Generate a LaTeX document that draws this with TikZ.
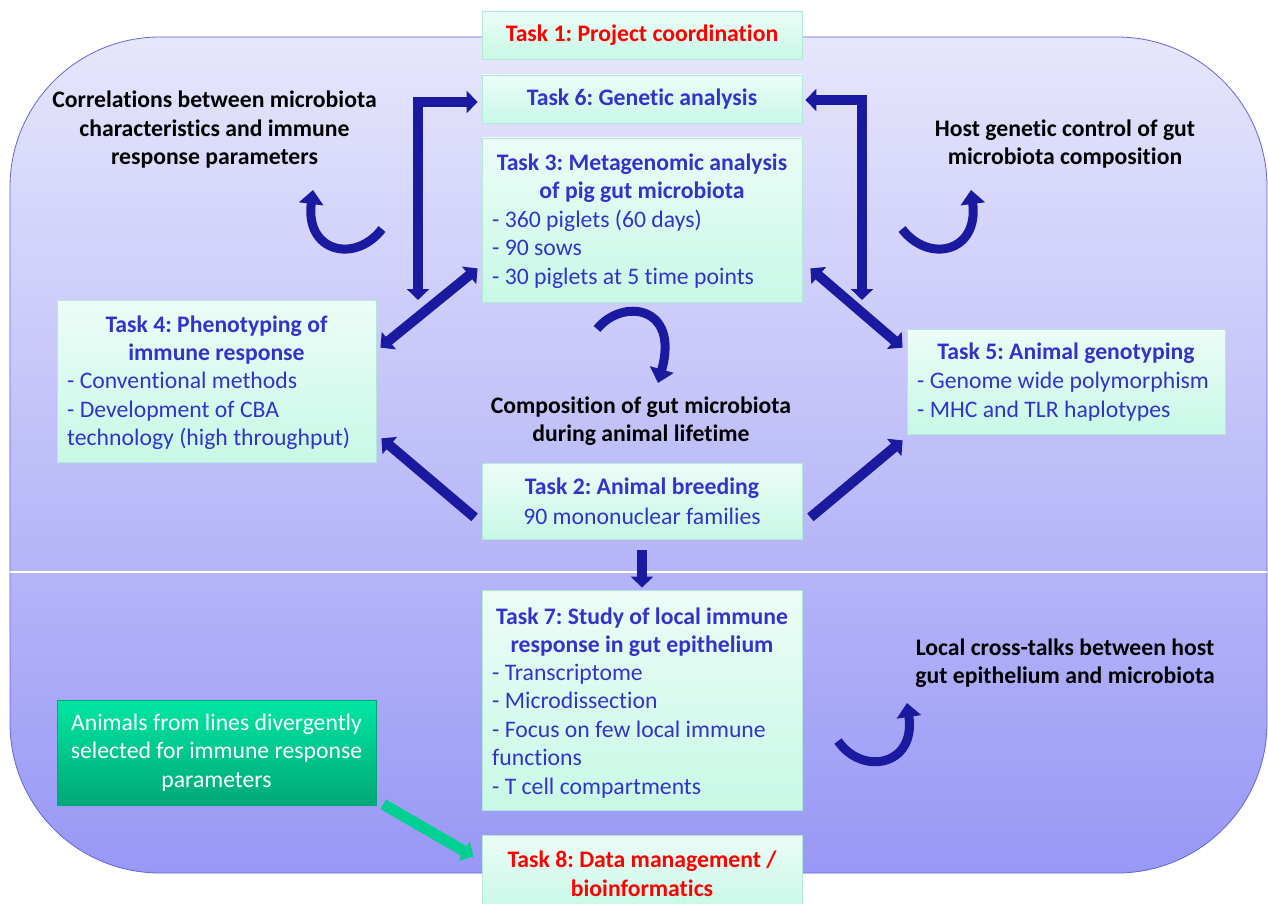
\documentclass[tikz,border=0pt]{standalone}
\usepackage{fontspec}
\setmainfont{Carlito}[Ligatures={NoCommon,NoRequired,NoContextual},Contextuals=NoAlternate]
\usetikzlibrary{arrows.meta,calc}
\definecolor{bgtop}{RGB}{230,230,252}
\definecolor{bgbot}{RGB}{152,152,246}
\definecolor{bgline}{RGB}{100,100,220}
\definecolor{mintT}{RGB}{236,253,247}
\definecolor{mintB}{RGB}{200,248,230}
\definecolor{boxline}{RGB}{180,232,214}
\definecolor{tblue}{RGB}{51,51,204}
\definecolor{tred}{RGB}{255,0,0}
\definecolor{ablue}{RGB}{26,26,160}
\definecolor{grnT}{RGB}{0,230,162}
\definecolor{grnB}{RGB}{0,168,120}
\definecolor{garrow}{RGB}{0,208,146}
\newcommand\fsz{\fontsize{23.7}{28.5}\selectfont\frenchspacing}
\begin{document}
\begin{tikzpicture}[x=1pt,y=-1pt,
  btip/.tip={Triangle[width=22pt,length=11pt]},
  ctip/.tip={Triangle[width=24pt,length=14pt]},
  taskbox/.style={draw=boxline, line width=0.8pt, top color=mintT, bottom color=mintB, minimum width=320pt, inner sep=0pt},
  ttl/.style={font=\bfseries\fsz, text=tblue, align=center, inner sep=0pt},
  rtl/.style={font=\bfseries\fsz, text=tred, align=center, inner sep=0pt},
  itm/.style={font=\fsz, text=tblue, align=left, inner sep=0pt, anchor=west},
  lbl/.style={font=\bfseries\fsz, text=black, align=center, inner sep=0pt},
  barrow/.style={draw=ablue, line width=10pt, -btip},
  dbarrow/.style={draw=ablue, line width=10pt, btip-btip, line join=miter},
  carrow/.style={draw=ablue, line width=9pt, -ctip},
  garrowst/.style={draw=garrow, line width=11pt, -btip}
]
\clip (0,0) rectangle (1268,904);
\fill[white] (0,0) rectangle (1268,904);
% background panel
\shade[top color=bgtop, bottom color=bgbot, rounded corners=150pt] (10,37) rectangle (1267,873);
\draw[bgline, line width=0.8pt, rounded corners=150pt] (10,37) rectangle (1267,873);
\draw[white, line width=1.5pt] (10,572) -- (1267,572);

% task boxes
\node[taskbox, minimum height=48pt] (t1) at (642,35) {};
\node[rtl] (t1t) at (t1.center) {Task 1: Project coordination};

\node[taskbox, minimum height=48pt] (t6) at (642,99) {};
\node[ttl] (t6t) at (t6.center) {Task 6: Genetic analysis};

\node[taskbox, minimum height=164pt] (t3) at (642,220) {};
\node[ttl] (t3t) at (642,178) {Task 3: Metagenomic analysis\\of pig gut microbiota};
\node[itm] (t3i) at (492,249) {- 360 piglets (60 days)\\- 90 sows\\- 30 piglets at 5 time points};

\node[taskbox, minimum width=319pt, minimum height=162pt] (t4) at (216.5,381) {};
\node[ttl] (t4t) at (216.5,340) {Task 4: Phenotyping of\\immune response};
\node[itm] (t4i) at (67,411) {- Conventional methods\\- Development of CBA\\technology (high throughput)};

\node[taskbox, minimum width=318pt, minimum height=105pt] (t5) at (1066,381.5) {};
\node[ttl] (t5t) at (1066,353) {Task 5: Animal genotyping};
\node[itm] (t5i) at (917,396.5) {- Genome wide polymorphism\\- MHC and TLR haplotypes};

\node[taskbox, minimum height=76pt] (t2) at (642,501) {};
\node[ttl] (t2t) at (642,488) {Task 2: Animal breeding};
\node[font=\fsz, text=tblue, inner sep=0pt] (t2i) at (642,516) {90 mononuclear families};

\node[taskbox, minimum height=220pt] (t7) at (642,700) {};
\node[ttl] (t7t) at (642,632) {Task 7: Study of local immune\\response in gut epithelium};
\node[itm] (t7i) at (492,731) {- Transcriptome\\- Microdissection\\- Focus on few local immune\\functions\\- T cell compartments};

\node[taskbox, minimum height=75pt] (t8) at (642,872.5) {};
\node[rtl] (t8t) at (642,874) {Task 8: Data management /\\bioinformatics};

\node[draw=grnB, line width=0.6pt, top color=grnT, bottom color=grnB, minimum width=319pt, minimum height=105pt, inner sep=0pt] (grn) at (216.5,752.5) {};
\node[font=\fsz, text=white, align=center, inner sep=0pt] (grnt) at (216.5,752.5) {Animals from lines divergently\\selected for immune response\\parameters};

% black labels
\node[lbl] (l1) at (214.5,130) {Correlations between microbiota\\characteristics and immune\\response parameters};
\node[lbl] (l2) at (1065,144) {Host genetic control of gut\\microbiota composition};
\node[lbl] (l3) at (641,421) {Composition of gut microbiota\\during animal lifetime};
\node[lbl] (l4) at (1065,663) {Local cross-talks between host\\gut epithelium and microbiota};

% free ends
\coordinate (eL) at (418,300);
\coordinate (eR) at (862,300);

% connectors
\draw[dbarrow] ($(t6.west)+(-4,3)$) -| (eL);
\draw[dbarrow] ($(t6.east)+(3,1)$) -| (eR);
\draw[dbarrow] ($(t4.north east)+(4,48)$) -- ($(t3.south west)+(-4,-34)$);
\draw[dbarrow] ($(t3.south east)+(8,-34)$) -- ($(t5.north west)+(-4,19)$);
\draw[barrow] ($(t2.south west)+(-7,-22)$) -- ($(t4.south east)+(5,-24)$);
\draw[barrow] ($(t2.south east)+(8,-22)$) -- ($(t5.south west)+(-4,6)$);
\draw[barrow] ($(t2.south)+(0,11)$) -- ($(t7.north)+(0,-2)$);
\draw[garrowst] ($(grn.south east)+(7,-1)$) -- ($(t8.north west)+(-8,22)$);

% curved arrows
\draw[carrow] (382,229) .. controls (355,264) and (305,252) .. (313,190);
\draw[carrow] (902,229) .. controls (929,264) and (979,252) .. (971,190);
\draw[carrow] (597,329) .. controls (622,298) and (680,305) .. (658,383);
\draw[carrow] (838,741) .. controls (862,776) and (916,766) .. (907,703);
\end{tikzpicture}
\end{document}
